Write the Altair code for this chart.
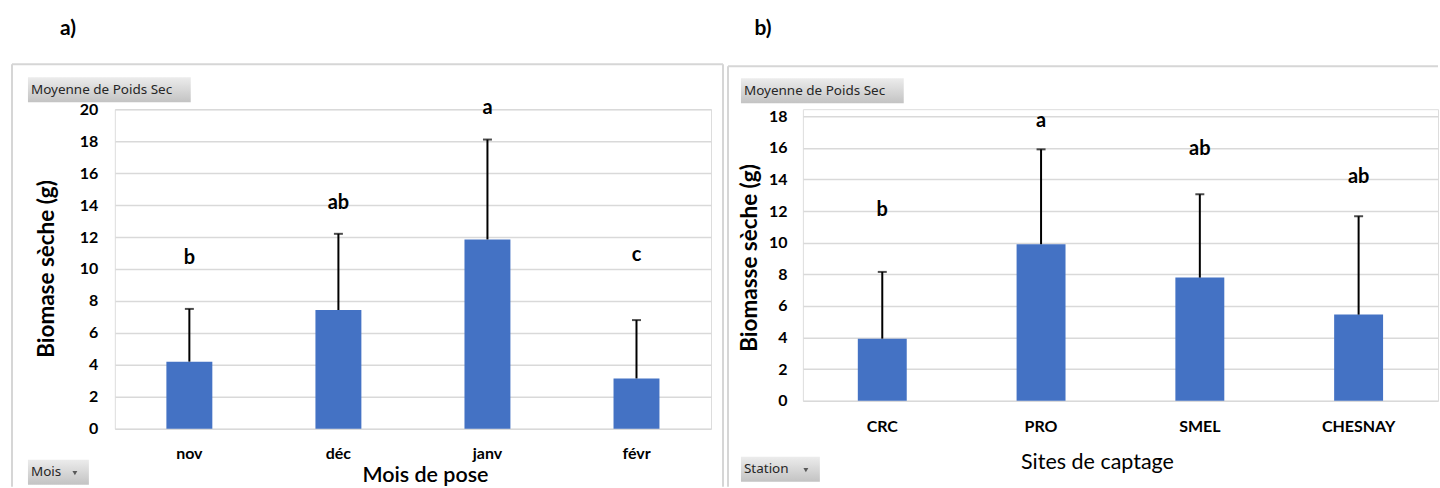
import altair as alt
import pandas as pd

# a) dry biomass by month of deployment
mois = ["nov", "déc", "janv", "févr"]
poids_mois = [4.2, 7.43, 11.85, 3.15]
ecart_mois = [3.3, 4.77, 6.25, 3.65]
lettres_mois = ["b", "ab", "a", "c"]
hauteur_lettres_mois = [10.7, 14.1, 20.1, 10.9]
graduations_mois = [0, 2, 4, 6, 8, 10, 12, 14, 16, 18, 20]

# b) dry biomass by collection site
stations = ["CRC", "PRO", "SMEL", "CHESNAY"]
poids_station = [3.93, 9.9, 7.79, 5.45]
ecart_station = [4.22, 6.0, 5.27, 6.22]
lettres_station = ["b", "a", "ab", "ab"]
hauteur_lettres_station = [12.05, 17.7, 15.9, 14.15]
graduations_station = [0, 2, 4, 6, 8, 10, 12, 14, 16, 18]

POLICE = "Lato"
BLEU = "#4472C4"
GRILLE = "#d9d9d9"
CADRE = "#d6d6d6"

degrade = alt.LinearGradient(
    gradient="linear",
    stops=[alt.GradientStop(color="#ececec", offset=0),
           alt.GradientStop(color="#c3c3c3", offset=1)],
    x1=0, x2=0, y1=0, y2=1,
)

un = pd.DataFrame({"k": [0]})


def bouton(x0, x1, y0, y1, libelle, x_fleche):
    fond = alt.Chart(un).mark_rect(fill=degrade).encode(
        x=alt.value(x0), x2=alt.value(x1), y=alt.value(y0), y2=alt.value(y1))
    texte = alt.Chart(un).mark_text(
        text=libelle, align="left", baseline="middle", font="Noto Sans",
        fontSize=13.5, color="#262626").encode(
        x=alt.value(x0 + 3), y=alt.value((y0 + y1) / 2))
    couches = [fond, texte]
    if x_fleche is not None:
        couches.append(alt.Chart(un).mark_point(
            shape="triangle-down", filled=True, size=24, color="#595959", opacity=1).encode(
            x=alt.value(x_fleche), y=alt.value((y0 + y1) / 2 + 1)))
    return couches


def trait(x0, x1, y0, y1):
    return alt.Chart(un).mark_rule(color=CADRE, strokeWidth=2).encode(
        x=alt.value(x0), x2=alt.value(x1), y=alt.value(y0), y2=alt.value(y1))


def texte_libre(txt, x, y, taille, graisse="bold", angle=0):
    return alt.Chart(un).mark_text(
        text=txt, align="center", baseline="middle", font=POLICE,
        fontSize=taille, fontWeight=graisse, angle=angle, color="#000000").encode(
        x=alt.value(x), y=alt.value(y))


def panneau(cats, moy, ecart, lettres, hauteurs, graduations, domaine,
            largeur_barre, pad_y, pad_x):
    df = pd.DataFrame({
        "cat": cats,
        "moy": moy,
        "haut": [m + s for m, s in zip(moy, ecart)],
        "lettre": lettres,
        "yl": hauteurs,
    })
    x = alt.X("cat:N", sort=cats,
              scale=alt.Scale(paddingInner=0, paddingOuter=0),
              axis=alt.Axis(title=None, labelAngle=0, ticks=False, domain=False,
                            labelFont=POLICE, labelFontSize=16, labelFontWeight="bold",
                            labelColor="#000000", labelPadding=pad_x))
    echelle_y = alt.Scale(domain=domaine, nice=False, zero=True)
    axe_y = alt.Axis(title=None, values=graduations, grid=True, labelOverlap=False,
                     gridColor=GRILLE, gridWidth=1.5, ticks=False, domain=False,
                     labelFont=POLICE, labelFontSize=16, labelFontWeight="bold",
                     labelColor="#000000", labelPadding=pad_y)

    def y(champ):
        return alt.Y(champ, scale=echelle_y, axis=axe_y)

    base = alt.Chart(df)
    barres = base.mark_bar(size=largeur_barre, color=BLEU).encode(x=x, y=y("moy:Q"))
    erreur = base.mark_rule(color="#000000", strokeWidth=2).encode(
        x=x, y=y("moy:Q"), y2="haut:Q")
    chapeau = base.mark_tick(color="#000000", thickness=2, size=9).encode(
        x=x, y=y("haut:Q"))
    lettres_m = base.mark_text(font=POLICE, fontSize=20, fontWeight="bold",
                               baseline="middle", color="#000000").encode(
        x=x, y=y("yl:Q"), text="lettre:N")
    return [barres, erreur, chapeau, lettres_m]


# panel a: plot origin sits at (114, 108) on the page
couches_a = panneau(mois, poids_mois, ecart_mois, lettres_mois, hauteur_lettres_mois,
                    graduations_mois, [0, 20], 46, 17, 17)
decor_a = [
    alt.Chart(un).mark_rect(color="white").encode(
        x=alt.value(-114), x2=alt.value(-112), y=alt.value(-108), y2=alt.value(-106)),
    trait(-103, 609, -45, -45),
    trait(-103, -103, -45, 378),
    trait(609, 609, -45, 378),
    *bouton(-87, 76, -32, -7, "Moyenne de Poids Sec", None),
    *bouton(-87, -26, 351, 376, "Mois", -40),
    texte_libre("a)", -47, -80, 21),
    texte_libre("Biomase sèche (g)", -68, 160, 22.5, angle=270),
    texte_libre("Mois de pose", 311, 367, 21.5, graisse=600),
]
panel_a = alt.layer(*decor_a, *couches_a).properties(width=597, height=320)

# panel b: plot origin sits at (803, 108) on the page
couches_b = panneau(stations, poids_station, ecart_station, lettres_station,
                    hauteur_lettres_station, graduations_station, [0, 18.44],
                    49, 16, 18)
decor_b = [
    trait(-75, 636, -43, -43),
    trait(-75, -75, -43, 378),
    *bouton(-62, 101, -31, -6, "Moyenne de Poids Sec", None),
    *bouton(-62, 17, 348, 373, "Station", 3),
    texte_libre("b)", -40, -80, 21),
    texte_libre("Biomasse sèche (g)", -53, 149, 22.5, angle=270),
    texte_libre("Sites de captage", 295, 354, 21.5, graisse="normal"),
]
panel_b = alt.layer(*decor_b, *couches_b).properties(width=636, height=292)

chart = alt.hconcat(panel_a, panel_b, spacing=92, bounds="flush").properties(
    padding=0
).configure_view(stroke=None).configure(font=POLICE)

chart.save("out.html", embed_options={"renderer": "svg", "actions": False})
